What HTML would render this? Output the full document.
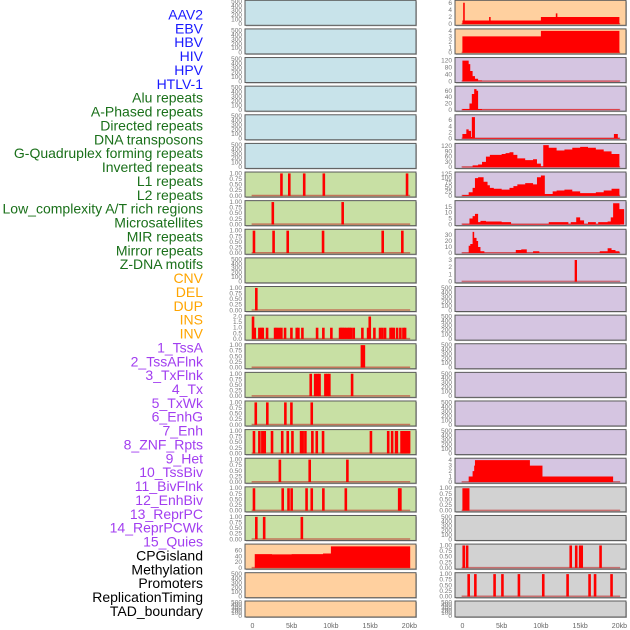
<!DOCTYPE html>
<html><head><meta charset="utf-8"><style>
html,body{margin:0;padding:0;background:#fff;}
svg{display:block;font-family:"Liberation Sans",sans-serif;}
</style></head><body>
<svg id="chart" width="630" height="630" viewBox="0 0 630 630" xmlns="http://www.w3.org/2000/svg">
<g id="labels"></g>
<g id="panels"></g>
</svg>
<script>
const NS="http://www.w3.org/2000/svg";
// ---------- data ----------
const trackNames=["AAV2","EBV","HBV","HIV","HPV","HTLV-1","Alu repeats","A-Phased repeats","Directed repeats","DNA transposons","G-Quadruplex forming repeats","Inverted repeats","L1 repeats","L2 repeats","Low_complexity A/T rich regions","Microsatellites","MIR repeats","Mirror repeats","Z-DNA motifs","CNV","DEL","DUP","INS","INV","1_TssA","2_TssAFlnk","3_TxFlnk","4_Tx","5_TxWk","6_EnhG","7_Enh","8_ZNF_Rpts","9_Het","10_TssBiv","11_BivFlnk","12_EnhBiv","13_ReprPC","14_ReprPCWk","15_Quies","CPGisland","Methylation","Promoters","ReplicationTiming","TAD_boundary"];
const trackGroups=["v","v","v","v","v","v","r","r","r","r","r","r","r","r","r","r","r","r","r","s","s","s","s","s","c","c","c","c","c","c","c","c","c","c","c","c","c","c","c","o","o","o","o","o"];
const xTickValues=[0,5,10,15,20];
const xTickLabels=["0","5kb","10kb","15kb","20kb"];

const leftL1=[3.7,4.7,6.6,9.1,19.7];
const leftL2=[2.6,11.5];
const leftLowc=[0.2,2.7,4.5,9.0,16.6,19.1];
const leftRow11=[0.5];
const insPos=[0.08,0.3,0.89,1.15,1.32,1.87,2.89,3.1,3.4,3.69,4.16,4.97,5.65,5.86,6.37,8.24,9.04,10.06,11.17,11.34,11.51,11.72,11.93,12.19,12.36,12.57,12.91,14.01,14.74,14.95,15.54,16.26,16.56,16.9,17.6,17.8,18.0,18.43,18.85,19.24,19.45];
const insVal=[2,1,1,1,1,1,1,1,1,1,1,1,1,1,1,1,1,1,1,1,1,1,1,1,1,1,1,1,1,2,1,1,1,1,1,1,1,1,1,1,1];
const leftTssA=[13.95,14.2];
const leftRow14=[7.43,8.0,8.3,8.55,9.3,9.55,9.8,12.7];
const leftRow15=[0.43,1.9,4.2,4.97,7.56];
const leftRow16=[0.2,0.89,1.27,1.57,2.5,3.8,4.5,5.1,6.2,6.4,6.75,7.64,8.2,9.0,15.1,17.3,17.8,18.3,18.4,19.0,19.2,19.4,19.5,19.7,19.96];
const leftRow17=[3.5,7.3,12.1];
const leftRow18=[0.2,3.86,4.6,5.0,6.9,7.56,9.04,11.9,18.7,18.85];
const leftRow19=[0.5,1.5,6.3];
const cpgSteps=[[0.3,48],[2.5,47],[5.0,48],[8.0,48],[9.0,50],[10.0,75],[20.1,0]];

const aav2Steps=[[0,1],[0.1,6],[0.3,1],[3.4,2],[3.6,1],[10,2],[11.9,3],[12.1,2],[20,0]];
const ebvSteps=[[0,3],[10,4],[20,0]];
const hbvSteps=[[0,120],[0.8,100],[1.0,60],[1.3,30],[1.6,15],[2.0,5],[2.5,1],[20,0]];
const hivSteps=[[0,3],[0.9,20],[1.2,50],[1.5,65],[1.8,60],[2.0,3],[2.5,1],[20,0]];
const hpvSteps=[[0,1.5],[0.5,3],[0.8,2.5],[1.1,0.5],[1.2,7],[1.6,0.2],[19.3,1.5],[19.8,0.2],[20,0]];
const htlvSteps=[[0,2],[1.3,10],[2.0,15],[2.5,30],[3.0,60],[3.5,70],[5.0,75],[5.5,80],[6.0,85],[6.5,70],[7.0,50],[8.0,40],[9.0,45],[9.5,20],[10.0,5],[10.3,125],[11,110],[12,95],[13,100],[14,110],[15,115],[16,110],[17,100],[18,90],[19,75],[20,0]];
const aluSteps=[[0,5],[0.8,20],[1.3,45],[1.6,100],[2.0,105],[2.7,80],[3.2,60],[3.5,45],[4,40],[5,35],[6,45],[6.5,55],[7,65],[8,72],[9,65],[9.5,105],[10,115],[10.5,10],[11.5,25],[12,30],[13,35],[14,25],[15,15],[17,20],[18,30],[19,40],[20,0]];
const aphSteps=[[0,0.5],[0.9,5],[1.3,7],[1.6,9],[2.0,2],[2.3,3],[3.0,2.5],[5.0,2],[6.2,0.4],[11,2],[13.5,0.4],[13.8,2],[14.5,6],[15,3.5],[15.5,0.4],[16,2],[17,0.4],[17.3,2],[18.5,2.5],[18.9,6],[19.2,18],[20,13],[20.6,0]];
const dirSteps=[[0,0.5],[0.8,12],[1.0,15],[1.3,35],[1.5,25],[1.8,20],[2.0,10],[2.3,3],[2.8,0.5],[6.8,5],[7.5,6],[8.2,0.5],[9.0,3],[9.8,0.5],[17.5,3],[18.5,8],[19,5],[19.5,3],[20,0]];
const dnaSteps=[[14.3,3],[14.6,0]];
const hetSteps=[[0.8,1],[1.3,2],[1.5,3],[1.6,4],[8.6,3],[10.2,1],[19.2,0]];
const rightRow17Steps=[[0,1],[0.9,0]];
const rightCpg=[0.17,0.6,13.8,14.5,15.0,15.2,17.6];
const rightMeth=[0.8,1.65,4.1,5.1,7.2,10.3,13.4,16.2,16.9,19.0];

const T500=[0,100,200,300,400,500], TB=[0,0.25,0.5,0.75,1];
const BLUE="#c8e3ea",GREEN="#c8e0a4",ORANGE="#ffd09f",PURPLE="#d5c5e1",GREY="#d2d2d2";
const leftPanels=[
 ["empty",null,500,T500,BLUE],["empty",null,500,T500,BLUE],["empty",null,500,T500,BLUE],
 ["empty",null,500,T500,BLUE],["empty",null,500,T500,BLUE],["empty",null,500,T500,BLUE],
 ["marks",leftL1,1,TB,GREEN],["marks",leftL2,1,TB,GREEN],["marks",leftLowc,1,TB,GREEN],
 ["empty",null,500,T500,GREEN],["marks",leftRow11,1,TB,GREEN],["ins",null,2,[0,0.5,1,1.5,2],GREEN],
 ["marks",leftTssA,1,TB,GREEN],["marks",leftRow14,1,TB,GREEN],["marks",leftRow15,1,TB,GREEN],
 ["marks",leftRow16,1,TB,GREEN],["marks",leftRow17,1,TB,GREEN],["marks",leftRow18,1,TB,GREEN],
 ["marks",leftRow19,1,TB,GREEN],["step",cpgSteps,78,[0,20,40,60],ORANGE],
 ["empty",null,500,T500,ORANGE],["empty",null,500,T500,ORANGE]];
const rightPanels=[
 ["step",aav2Steps,6.3,[0,2,4,6],ORANGE],["step",ebvSteps,4.1,[0,1,2,3,4],ORANGE],
 ["step",hbvSteps,130,[0,40,80,120],PURPLE],["step",hivSteps,70,[0,20,40,60],PURPLE],
 ["step",hpvSteps,7.3,[0,2,4,6],PURPLE],["step",htlvSteps,127,[0,30,60,90,120],PURPLE],
 ["step",aluSteps,127,[0,25,50,75,100,125],PURPLE],["step",aphSteps,19,[0,5,10,15],PURPLE],
 ["step",dirSteps,37,[0,10,20,30],PURPLE],["step",dnaSteps,3.1,[0,1,2,3],PURPLE],
 ["empty",null,500,T500,PURPLE],["empty",null,500,T500,PURPLE],["empty",null,500,T500,PURPLE],
 ["empty",null,500,T500,PURPLE],["empty",null,500,T500,PURPLE],["empty",null,500,T500,PURPLE],
 ["step",hetSteps,4.1,[0,1,2,3,4],PURPLE],["step",rightRow17Steps,1,TB,GREY],
 ["empty",null,500,T500,GREY],["marks",rightCpg,1,TB,GREY],["marks",rightMeth,1,TB,GREY],
 ["empty",null,500,T500,GREY]];

const groupColor={v:"#1a1aff",r:"#1a701a",s:"#ffa500",c:"#a23ef0",o:"#000"};
const labelsG=document.getElementById("labels");
trackNames.forEach((n,i)=>{
  const t=document.createElementNS(NS,"text");
  t.setAttribute("x",203);t.setAttribute("y",19.5+i*13.87);
  t.setAttribute("text-anchor","end");t.setAttribute("font-size","14");
  t.setAttribute("fill",groupColor[trackGroups[i]]);
  t.textContent=n;
  
  
  labelsG.appendChild(t);
});
const panelsG=document.getElementById("panels");
function mk(tag,attrs,parent){const e=document.createElementNS(NS,tag);for(const k in attrs)e.setAttribute(k,attrs[k]);parent.appendChild(e);return e;}
function fmt(v,ticks){
  if(ticks===TB) return v.toFixed(2);
  if(ticks[ticks.length-1]===2) return v.toFixed(1);
  return String(v);
}
function drawColumn(panels,left,col){
  const W=171, x0=left+7.4, kbpx=7.85;
  const X=kb=>x0+kb*kbpx;
  panels.forEach((p,i)=>{
    const [kind,data,ymax,ticks,fill]=p;
    const top=(i===21)?601:i*28.62+0.3;
    const h=(i===21)?16:25;
    const g=mk("g",{},panelsG);
    
    
    mk("rect",{x:left+1,y:top+1,width:W,height:h,fill:"#bbb"},g);
    mk("rect",{x:left,y:top,width:W,height:h,fill:fill,stroke:"#5a5a5a","stroke-width":1},g);
    const y0=top+h-1.2, yr=h-2.6;
    const Y=v=>y0-Math.min(v,ymax)/ymax*yr;
    ticks.forEach(tv=>{
      const t=mk("text",{x:left-3,y:Y(tv)+2,"text-anchor":"end","font-size":"6.5","fill":"#777"},g);
      t.textContent=fmt(tv,ticks);
      
      
    });
    if(kind==="empty") return;
    mk("line",{x1:X(-0.1),x2:X(20.1),y1:y0-0.3,y2:y0-0.3,stroke:"rgba(190,30,30,0.55)","stroke-width":1.5},g);
    if(kind==="marks"){
      data.forEach(kb=>{
        const r=mk("rect",{x:X(kb)-1.3,y:Y(1),width:2.6,height:y0-Y(1),fill:"#ff0000"},g);
        
        
      });
    } else if(kind==="ins"){
      insPos.forEach((kb,j)=>{
        const r=mk("rect",{x:X(kb)-1.3,y:Y(insVal[j]),width:2.6,height:y0-Y(insVal[j]),fill:"#ff0000"},g);
        
        
      });
    } else if(kind==="step"){
      let d="M"+X(data[0][0])+","+y0;
      for(let j=0;j<data.length;j++){
        const [kb,v]=data[j];
        const nx=(j+1<data.length)?data[j+1][0]:kb;
        d+=" L"+X(kb)+","+Y(v)+" L"+X(nx)+","+Y(v);
      }
      d+=" L"+X(data[data.length-1][0])+","+y0+" Z";
      const pth=mk("path",{d:d,fill:"#ff0000"},g);
      
      
    }
  });
  xTickValues.forEach((v,k)=>{
    const t=mk("text",{x:X(v),y:628,"text-anchor":"middle","font-size":"7","fill":"#666"},panelsG);
    t.textContent=xTickLabels[k];
    
    
  });
}
drawColumn(leftPanels,245,"left");
drawColumn(rightPanels,455,"right");
</script>
</body></html>
